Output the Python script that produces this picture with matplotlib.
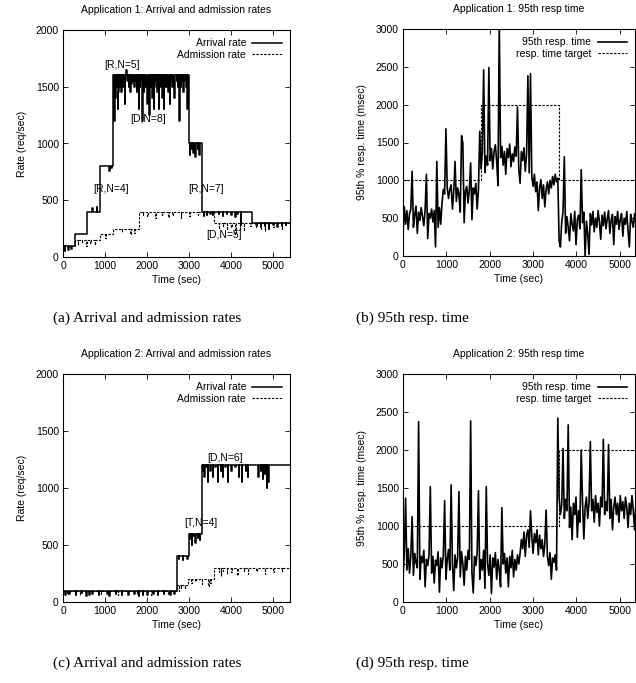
import numpy as np
import matplotlib
matplotlib.use("Agg")
import matplotlib.pyplot as plt

plt.rcParams['font.family'] = ['Liberation Sans', 'DejaVu Sans']

# ---- Application 1: arrival / admission (step levels + dips) ----
arr1_edges = [0, 280, 580, 880, 1200, 3000, 3300, 4500, 5400]
arr1_levels = [100, 200, 400, 800, 1600, 1000, 400, 300]
arr1_dips = [(40, 50), (120, 60), (200, 70), (700, 430), (800, 440),
             (1100, 760), (1150, 780),
             (1220, 1200), (1240, 1400), (1260, 1550), (1280, 1500), (1300, 1300),
             (1320, 1450), (1340, 1550), (1360, 1500), (1380, 1450), (1420, 1500),
             (1440, 1550), (1470, 1350), (1500, 1650), (1530, 1550), (1560, 1500),
             (1600, 1450), (1620, 1520), (1650, 1550), (1700, 1500), (1730, 1550),
             (1760, 1450), (1800, 1300), (1830, 1500), (1850, 1550), (1880, 1200),
             (1920, 1450), (1940, 1550), (1960, 1500), (2000, 1350), (2020, 1500),
             (2050, 1250), (2080, 1500), (2100, 1550), (2120, 1400), (2160, 1300),
             (2200, 1550), (2220, 1500), (2240, 1450), (2280, 1300), (2300, 1550),
             (2320, 1500), (2360, 1400), (2400, 1300), (2420, 1500), (2440, 1550),
             (2470, 1500), (2500, 1450), (2540, 1350), (2570, 1550), (2600, 1500),
             (2650, 1400), (2700, 1550), (2730, 1500), (2760, 1200), (2800, 1500),
             (2830, 1550), (2860, 1450), (2900, 1550), (2930, 1500), (2960, 1300),
             (3020, 900), (3060, 950), (3100, 920), (3150, 880), (3200, 950), (3240, 900),
             (3350, 360), (3420, 370), (3500, 380), (3560, 370), (3700, 380), (3800, 360),
             (3900, 380), (4000, 370), (4100, 350), (4150, 380), (4230, 280),
             (4600, 280), (4700, 260), (4800, 270), (4900, 250), (5000, 280),
             (5100, 260), (5200, 270), (5300, 280)]
adm1_edges = [0, 280, 880, 1200, 1800, 3600, 5400]
adm1_levels = [100, 150, 200, 250, 400, 300]
adm1_dips = [(350, 110), (450, 120), (550, 100), (650, 120), (750, 110),
             (1000, 170), (1400, 220), (1600, 200), (1700, 210),
             (1900, 370), (2000, 360), (2200, 340), (2350, 370), (2500, 350),
             (2600, 370), (2800, 340), (3000, 360), (3200, 370), (3400, 380),
             (3700, 250), (3800, 270), (3900, 240), (4000, 260), (4100, 200),
             (4200, 250), (4300, 230), (4450, 270), (4600, 260), (4700, 250),
             (4800, 230), (5000, 260), (5200, 250)]

# ---- Application 2: arrival / admission ----
arr2_edges = [0, 2700, 3000, 3300, 5400]
arr2_levels = [100, 400, 600, 1200]
arr2_dips = [(50, 60), (150, 70), (300, 60), (450, 80), (550, 50), (620, 60),
             (700, 70), (850, 60), (1050, 70), (1100, 50), (1250, 70), (1400, 60),
             (1550, 60), (1700, 70), (1800, 50), (1900, 60), (2000, 60), (2150, 70),
             (2250, 60), (2400, 70), (2550, 60), (2650, 70),
             (2750, 380), (2850, 370), (2950, 380),
             (3020, 550), (3060, 500), (3100, 580), (3150, 520), (3200, 560), (3250, 540),
             (3320, 1150), (3360, 1100), (3400, 1180), (3440, 1050), (3500, 1150),
             (3560, 1100), (3620, 1180), (3680, 1050), (3750, 1150), (3800, 1100),
             (3860, 1180), (3920, 1050), (4000, 1150), (4100, 1180), (4180, 1100),
             (4250, 1050), (4350, 1150), (4400, 1100), (4650, 1100), (4700, 1150),
             (4750, 1080), (4800, 1120), (4850, 1000), (4880, 1050)]
adm2_edges = [0, 2700, 2980, 3600, 5400]
adm2_levels = [100, 150, 200, 300]
adm2_dips = [(100, 70), (400, 60), (900, 70), (1300, 60), (1750, 70), (2100, 60),
             (2500, 70), (2750, 100), (2800, 120), (2900, 110),
             (3050, 170), (3150, 180), (3300, 160), (3450, 140), (3500, 170),
             (3700, 260), (3750, 230), (3800, 270), (3900, 250), (4000, 260),
             (4150, 240), (4300, 270), (4400, 250), (4600, 270), (4800, 250),
             (5000, 260), (5200, 270)]

# ---- 95th percentile response time, one sample every 30 s ----
resp_dt = 30
resp1 = [280, 650, 420, 600, 350, 560, 620, 1120, 380, 540,
         660, 300, 580, 470, 640, 520, 400, 610, 1080, 230,
         560, 500, 620, 450, 600, 120, 1250, 380, 640, 420,
         700, 880, 820, 1680, 900, 760, 880, 940, 620, 850,
         1250, 720, 900, 810, 580, 1590, 1490, 440, 860, 920,
         700, 880, 1230, 480, 900, 820, 960, 620, 880, 1650,
         1150, 1380, 2460, 1100, 1320, 1200, 2490, 1260, 1420, 1150,
         1380, 1470, 1250, 930, 3100, 1300, 1450, 1200, 1380, 1080,
         1420, 1300, 1480, 1180, 1350, 1250, 1440, 1320, 1970, 1150,
         960, 1380, 1260, 1430, 1120, 1350, 2380, 1100, 2410, 1050,
         920, 1080, 850, 980, 600, 900, 1010, 760, 940, 650,
         880, 980, 820, 1000, 900, 1050, 940, 1080, 980, 1030,
         200, 120, 450, 580, 1310, 300, 520, 380, 200, 560,
         420, 330, 590, 150, 480, 540, 360, 1140, 440, 580,
         0, 460, 300, 20, 560, 410, 590, 320, 500, 380,
         600, 450, 220, 540, 400, 580, 360, 490, 600, 300,
         470, 550, 150, 520, 420, 590, 350, 480, 560, 260,
         500, 420, 590, 330, 120, 550, 460, 380, 560, 430]
resp2 = [300, 650, 1364, 420, 700, 380, 600, 1123, 350, 640,
         520, 450, 2373, 300, 600, 520, 680, 200, 560, 480,
         620, 1518, 380, 600, 250, 550, 480, 660, 130, 580,
         450, 620, 1333, 300, 560, 690, 420, 1540, 500, 150,
         620, 450, 580, 1452, 330, 660, 500, 220, 600, 420,
         680, 560, 2382, 380, 120, 600, 480, 650, 1465, 300,
         560, 420, 680, 180, 1518, 500, 350, 620, 110, 580,
         460, 650, 300, 560, 420, 200, 1241, 500, 640, 380,
         580, 200, 600, 450, 680, 330, 560, 420, 620, 500,
         640, 820, 700, 920, 600, 880, 950, 720, 1200, 860,
         640, 900, 780, 950, 620, 880, 700, 820, 600, 760,
         1210, 600, 480, 650, 300, 580, 520, 620, 420, 2420,
         1380, 1150, 1280, 2020, 1100, 1350, 1200, 2330, 980, 1250,
         820, 1300, 1150, 1380, 850, 1200, 1050, 2000, 1320, 830,
         1250, 1380, 1100, 1300, 2110, 1200, 1350, 1050, 1400, 1180,
         1300, 1000, 1380, 1250, 2140, 1150, 1320, 1200, 2070, 1100,
         1350, 950, 1250, 1380, 1150, 1300, 1050, 1400, 1200, 1320,
         1100, 1380, 1250, 980, 1300, 1150, 1400, 1200, 950, 1280]
target1_edges = [0, 1800, 3600, 5400]
target1_levels = [1000, 2000, 1000]
target2_edges = [0, 3600, 5400]
target2_levels = [1000, 2000]

labels_a = [("[R,N=5]", 1405, 1690), ("[D,N=8]", 2024, 1220), ("[R,N=4]", 1135, 603),
            ("[R,N=7]", 3413, 603), ("[D,N=5]", 3825, 191)]
labels_c = [("[T,N=4]", 3283, 689), ("[D,N=6]", 3861, 1261)]


def step_line(edges, levels, dips, w=12):
    """Build a step trace: level segments with narrow dips at given times."""
    xs, ys = [], []
    for k, lvl in enumerate(levels):
        x0, x1 = edges[k], edges[k + 1]
        xs.append(x0)
        ys.append(lvl)
        for t, v in sorted(dips):
            if x0 < t < x1 - w:
                xs += [t, t, t + w, t + w]
                ys += [lvl, v, v, lvl]
        xs.append(x1)
        ys.append(lvl)
    return np.array(xs), np.array(ys)


def style(ax, ymax, ystep, xmax, ylabel, title):
    ax.set_xlim(0, xmax)
    ax.set_ylim(0, ymax)
    ax.set_xticks(np.arange(0, 5001, 1000))
    ax.set_yticks(np.arange(0, ymax + 1, ystep))
    ax.tick_params(direction='in', top=True, right=True, length=3.5,
                   width=0.6, labelsize=7.5, pad=3)
    for s in ax.spines.values():
        s.set_linewidth(0.8)
    ax.set_xlabel("Time (sec)", fontsize=7.5, labelpad=3)
    ax.set_ylabel(ylabel, fontsize=7.5, labelpad=6)
    ax.set_title(title, fontsize=7.5, pad=12)


fig = plt.figure(figsize=(6.36, 6.83), dpi=100)
W, H = 636, 683
ax_a = fig.add_axes([63 / W, 1 - 257 / H, 227 / W, 227 / H])
ax_b = fig.add_axes([403 / W, 1 - 256 / H, 232 / W, 227 / H])
ax_c = fig.add_axes([63 / W, 1 - 602 / H, 227 / W, 228 / H])
ax_d = fig.add_axes([403 / W, 1 - 602 / H, 232 / W, 228 / H])

dash = (0, (2.2, 1.3))
leg_kw = dict(loc='upper right', frameon=False, markerfirst=False, fontsize=7.5,
              handlelength=2.8, handletextpad=0.6, labelspacing=0.15,
              borderaxespad=0.4)

for ax, ae, al, ad, me, ml, md, labels, title in [
        (ax_a, arr1_edges, arr1_levels, arr1_dips, adm1_edges, adm1_levels, adm1_dips,
         labels_a, "Application 1: Arrival and admission rates"),
        (ax_c, arr2_edges, arr2_levels, arr2_dips, adm2_edges, adm2_levels, adm2_dips,
         labels_c, "Application 2: Arrival and admission rates")]:
    x, y = step_line(ae, al, ad)
    ax.plot(x, y, color='black', lw=1.1, label="Arrival rate")
    x, y = step_line(me, ml, md)
    ax.plot(x, y, color='black', lw=0.8, linestyle=dash, label="Admission rate")
    for txt, tx, ty in labels:
        ax.text(tx, ty, txt, fontsize=7.5, ha='center', va='center')
    style(ax, 2000, 500, 5400, "Rate (req/sec)", title)
    ax.legend(**leg_kw)

for ax, resp, te, tl, title in [
        (ax_b, resp1, target1_edges, target1_levels, "Application 1: 95th resp time"),
        (ax_d, resp2, target2_edges, target2_levels, "Application 2: 95th resp time")]:
    t = np.arange(len(resp)) * resp_dt
    ax.plot(t, resp, color='black', lw=1.2, label="95th resp. time")
    ax.step(te, tl + [tl[-1]], where='post', color='black', lw=0.8,
            linestyle=dash, label="resp. time target")
    style(ax, 3000, 500, 5350, "95th % resp. time (msec)", title)
    ax.legend(**leg_kw)

captions = [("(a) Arrival and admission rates", 147, 318),
            ("(b) 95th resp. time", 412, 318),
            ("(c) Arrival and admission rates", 147, 663),
            ("(d) 95th resp. time", 412, 663)]
for txt, cx, cy in captions:
    fig.text(cx / W, 1 - cy / H, txt, fontsize=11, ha='center', va='center',
             family=['Liberation Serif', 'DejaVu Serif'])

fig.savefig("out.png", dpi=100)
